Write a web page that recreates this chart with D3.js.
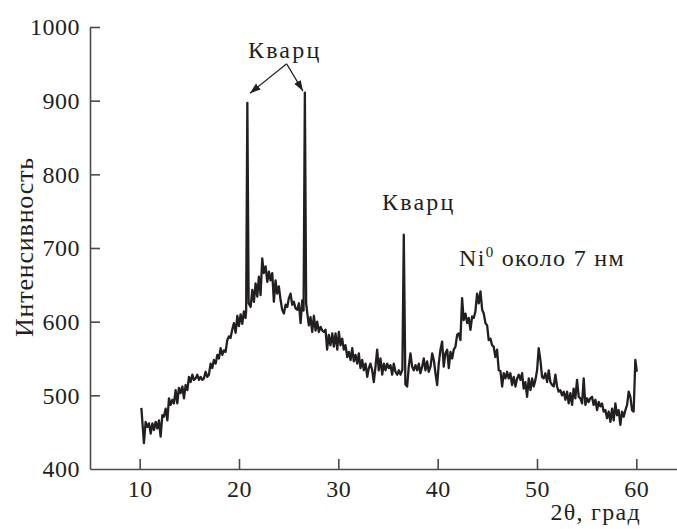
<!DOCTYPE html>
<html>
<head>
<meta charset="utf-8">
<script src="https://cdn.jsdelivr.net/npm/d3@7"></script>
<style>
  body { margin: 0; background: #fff; }
</style>
</head>
<body>
<svg id="chart" width="677" height="529"></svg>
<script>
// XRD scan: [2theta, intensity]
const scan = [
  [10.17, 483], [10.43, 435], [10.60, 464], [10.77, 457], [10.94, 462], [11.11, 448],
  [11.28, 462], [11.44, 453], [11.61, 464], [11.78, 455], [11.94, 466], [12.11, 444],
  [12.28, 473], [12.44, 471], [12.62, 482], [12.79, 466], [12.95, 496], [13.12, 487],
  [13.29, 494], [13.45, 489], [13.62, 507], [13.79, 489], [13.95, 510], [14.12, 503],
  [14.30, 512], [14.46, 496], [14.63, 514], [14.80, 507], [14.96, 525], [15.13, 518],
  [15.30, 528], [15.46, 521], [15.63, 523], [15.80, 528], [15.97, 521], [16.14, 525],
  [16.31, 521], [16.47, 523], [16.64, 532], [16.81, 525], [16.97, 528], [17.14, 543],
  [17.31, 537], [17.47, 548], [17.65, 543], [17.82, 555], [17.98, 550], [18.15, 564],
  [18.32, 555], [18.48, 561], [18.65, 559], [18.82, 575], [18.98, 580], [19.15, 578],
  [19.33, 590], [19.49, 598], [19.66, 585], [19.83, 608], [19.99, 594], [20.16, 610],
  [20.33, 597], [20.49, 614], [20.66, 605], [20.72, 615], [20.84, 897], [20.97, 625],
  [21.17, 620], [21.34, 643], [21.50, 627], [21.67, 652], [21.84, 634], [22.00, 661],
  [22.17, 636], [22.34, 686], [22.50, 666], [22.68, 675], [22.85, 654], [23.01, 668],
  [23.18, 656], [23.35, 666], [23.51, 627], [23.68, 656], [23.84, 638], [24.01, 648],
  [24.19, 629], [24.35, 616], [24.52, 611], [24.69, 623], [24.86, 620], [25.02, 632],
  [25.19, 638], [25.36, 623], [25.52, 627], [25.69, 618], [25.87, 616], [26.03, 625],
  [26.20, 598], [26.37, 629], [26.50, 615], [26.63, 911], [26.76, 625], [26.87, 612],
  [27.03, 595], [27.20, 606], [27.37, 586], [27.54, 608], [27.71, 588], [27.87, 600],
  [28.04, 586], [28.21, 593], [28.38, 588], [28.54, 586], [28.71, 589], [28.87, 562],
  [29.04, 582], [29.21, 568], [29.39, 584], [29.55, 566], [29.72, 584], [29.89, 562],
  [30.05, 586], [30.22, 568], [30.39, 577], [30.55, 562], [30.72, 568], [30.90, 552],
  [31.06, 559], [31.23, 548], [31.40, 564], [31.56, 546], [31.73, 555], [31.90, 543],
  [32.06, 557], [32.23, 537], [32.40, 548], [32.57, 534], [32.74, 543], [32.91, 525],
  [33.07, 537], [33.23, 543], [33.41, 534], [33.57, 518], [33.74, 539], [33.91, 562],
  [34.07, 534], [34.24, 550], [34.42, 528], [34.58, 543], [34.75, 534], [34.92, 543],
  [35.08, 537], [35.25, 541], [35.42, 528], [35.58, 543], [35.75, 532], [35.93, 528],
  [36.09, 534], [36.26, 528], [36.45, 535], [36.59, 718], [36.75, 515], [36.93, 512],
  [37.09, 539], [37.26, 557], [37.43, 539], [37.59, 534], [37.77, 541], [37.94, 534],
  [38.10, 543], [38.26, 530], [38.44, 539], [38.60, 550], [38.77, 534], [38.94, 546],
  [39.10, 532], [39.28, 539], [39.45, 557], [39.61, 548], [39.78, 530], [39.95, 514],
  [40.11, 543], [40.28, 562], [40.45, 573], [40.61, 539], [40.78, 557], [40.96, 562],
  [41.12, 537], [41.29, 559], [41.46, 550], [41.62, 562], [41.79, 566], [41.96, 582],
  [42.12, 584], [42.29, 575], [42.46, 632], [42.62, 602], [42.80, 611], [42.97, 598],
  [43.13, 605], [43.30, 589], [43.47, 607], [43.63, 605], [43.80, 614], [43.97, 638],
  [44.14, 625], [44.31, 641], [44.48, 616], [44.64, 611], [44.81, 598], [44.98, 595],
  [45.14, 575], [45.31, 577], [45.48, 568], [45.64, 566], [45.81, 552], [45.98, 562],
  [46.15, 534], [46.32, 533], [46.49, 512], [46.65, 530], [46.82, 523], [46.99, 532],
  [47.15, 523], [47.32, 530], [47.49, 514], [47.66, 525], [47.83, 512], [48.00, 523],
  [48.16, 528], [48.33, 521], [48.50, 530], [48.66, 509], [48.83, 518], [49.00, 498],
  [49.17, 523], [49.34, 507], [49.51, 523], [49.67, 512], [49.84, 521], [50.01, 534],
  [50.17, 564], [50.34, 548], [50.51, 525], [50.67, 523], [50.84, 530], [51.02, 518],
  [51.18, 534], [51.35, 518], [51.52, 514], [51.68, 512], [51.85, 528], [52.02, 512],
  [52.18, 505], [52.35, 507], [52.52, 500], [52.69, 505], [52.86, 494], [53.03, 505],
  [53.19, 489], [53.36, 503], [53.53, 487], [53.69, 509], [53.86, 496], [54.03, 521],
  [54.20, 498], [54.37, 496], [54.54, 489], [54.70, 523], [54.87, 487], [55.04, 496],
  [55.20, 491], [55.37, 496], [55.54, 498], [55.70, 487], [55.88, 494], [56.05, 480],
  [56.21, 491], [56.38, 485], [56.55, 489], [56.71, 478], [56.88, 480], [57.05, 469],
  [57.22, 478], [57.39, 464], [57.56, 482], [57.72, 466], [57.89, 489], [58.06, 473],
  [58.22, 480], [58.39, 460], [58.56, 478], [58.73, 471], [58.90, 480], [59.07, 487],
  [59.23, 505], [59.40, 498], [59.57, 480], [59.73, 478], [59.90, 548], [60.05, 532]
];

const xTicks = [10, 20, 30, 40, 50, 60];
const yTicks = [400, 500, 600, 700, 800, 900, 1000];

// annotations (positions in data units)
const quartzTop = { text: "Кварц", x: 24.6, y: 958, from: [24.8, 950], targets: [[21.1, 910], [26.44, 913]] };
const quartzMid = { text: "Кварц", x: 34.4, y: 752 };
const nickel = { main: "Ni", sup: "0", rest: " около 7 нм", x: 42.15, y: 675 };

const serif = '"Liberation Serif"';
const ink = "#231f20";
const svg = d3.select("#chart");
const x = d3.scaleLinear().domain([5, 65]).range([90, 686]);
const y = d3.scaleLinear().domain([400, 1000]).range([469, 27]);

const axisColor = "#4a4a4a";

function styleText(sel, size, spacing) {
  sel.style("font-family", serif)
    .style("font-size", size + "px")
    .style("fill", ink);
  if (spacing) sel.style("letter-spacing", spacing + "px");
  return sel;
}

// x axis
const gx = svg.append("g").attr("transform", `translate(0,${y(400)})`)
  .call(d3.axisBottom(x).tickValues(xTicks).tickFormat(d3.format("d"))
    .tickSizeInner(-10).tickSizeOuter(0).tickPadding(11));
gx.select(".domain").attr("stroke", axisColor).attr("stroke-width", 1.6);
gx.selectAll(".tick line").attr("stroke", axisColor).attr("stroke-width", 1.6);
styleText(gx.selectAll(".tick text"), 24, 0.5);

// y axis
const gy = svg.append("g").attr("transform", `translate(${x(5)},0)`)
  .call(d3.axisLeft(y).tickValues(yTicks).tickFormat(d3.format("d"))
    .tickSizeInner(-10).tickSizeOuter(0).tickPadding(10));
gy.select(".domain").attr("stroke", axisColor).attr("stroke-width", 1.6);
gy.selectAll(".tick line").attr("stroke", axisColor).attr("stroke-width", 1.6)
  .attr("display", d => d === 400 ? "none" : null);
styleText(gy.selectAll(".tick text"), 24, 0.5);

// curve
svg.append("path")
  .datum(scan)
  .attr("fill", "none")
  .attr("stroke", ink)
  .attr("stroke-width", 2.3)
  .attr("stroke-linejoin", "round")
  .attr("d", d3.line().x(d => x(d[0])).y(d => y(d[1])));

// axis titles
styleText(svg.append("text"), 26, 0.8)
  .attr("transform", "translate(33,247) rotate(-90)")
  .attr("text-anchor", "middle")
  .text("Интенсивность");

styleText(svg.append("text"), 24, 1.3)
  .attr("x", 641).attr("y", 520)
  .attr("text-anchor", "end")
  .text("2θ, град");

// annotations
const defs = svg.append("defs");
defs.append("marker").attr("id", "arr")
  .attr("viewBox", "0 0 10 10").attr("refX", 10).attr("refY", 5)
  .attr("markerWidth", 9).attr("markerHeight", 9).attr("orient", "auto")
  .append("path").attr("d", "M0,1.5 L10,5 L0,8.5 Z").attr("fill", ink);

styleText(svg.append("text"), 24, 2.2)
  .attr("x", x(quartzTop.x)).attr("y", y(quartzTop.y))
  .attr("text-anchor", "middle")
  .text(quartzTop.text);

quartzTop.targets.forEach(t => {
  svg.append("line")
    .attr("x1", x(quartzTop.from[0])).attr("y1", y(quartzTop.from[1]))
    .attr("x2", x(t[0])).attr("y2", y(t[1]))
    .attr("stroke", ink).attr("stroke-width", 1.2)
    .attr("marker-end", "url(#arr)");
});

styleText(svg.append("text"), 24, 2.2)
  .attr("x", x(quartzMid.x)).attr("y", y(quartzMid.y))
  .text(quartzMid.text);

const ni = styleText(svg.append("text"), 24, 1.3)
  .attr("x", x(nickel.x)).attr("y", y(nickel.y));
ni.append("tspan").text(nickel.main);
ni.append("tspan").attr("dy", -9).style("font-size", "15px").text(nickel.sup);
ni.append("tspan").attr("dy", 9).text(nickel.rest);
</script>
</body>
</html>
